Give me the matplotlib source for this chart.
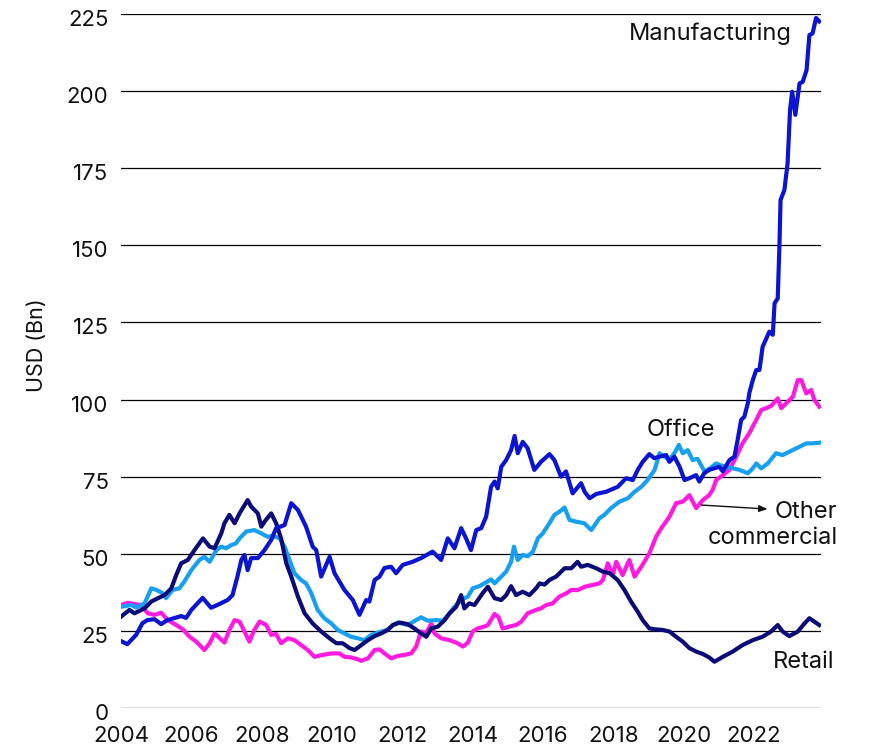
import matplotlib
matplotlib.use("Agg")
import matplotlib.pyplot as plt
import matplotlib.transforms as mtransforms

plt.rcParams['font.family'] = ['Inter', 'DejaVu Sans']

# ---------------- data (USD Bn) ----------------
manuf_x = [2004.00, 2004.18, 2004.43, 2004.61, 2004.75, 2004.95, 2005.14, 2005.32, 2005.71, 2005.85,
           2006.00, 2006.32, 2006.56, 2006.74, 2007.03, 2007.17, 2007.31, 2007.42, 2007.51, 2007.60,
           2007.70, 2007.89, 2008.08, 2008.27, 2008.41, 2008.65, 2008.84, 2009.03, 2009.26, 2009.45,
           2009.55, 2009.69, 2009.93, 2010.07, 2010.35, 2010.59, 2010.78, 2010.97, 2011.06, 2011.21,
           2011.35, 2011.49, 2011.68, 2011.82, 2012.01, 2012.29, 2012.53, 2012.86, 2013.10, 2013.29,
           2013.48, 2013.67, 2013.81, 2013.95, 2014.10, 2014.24, 2014.38, 2014.52, 2014.62, 2014.71,
           2014.81, 2014.95, 2015.09, 2015.19, 2015.28, 2015.42, 2015.56, 2015.75, 2015.94, 2016.18,
           2016.32, 2016.51, 2016.65, 2016.84, 2017.08, 2017.18, 2017.32, 2017.51, 2017.79, 2018.12,
           2018.36, 2018.55, 2018.69, 2018.83, 2019.02, 2019.16, 2019.31, 2019.50, 2019.59, 2019.73,
           2019.88, 2020.02, 2020.16, 2020.35, 2020.44, 2020.58, 2020.72, 2021.01, 2021.11, 2021.30,
           2021.44, 2021.53, 2021.63, 2021.72, 2021.82, 2021.86, 2021.96, 2022.06, 2022.15, 2022.24,
           2022.43, 2022.53, 2022.58, 2022.67, 2022.72, 2022.75, 2022.86, 2022.95, 2023.02, 2023.08,
           2023.17, 2023.29, 2023.38, 2023.49, 2023.57, 2023.66, 2023.76, 2023.85]
manuf_y = [21.7, 20.7, 23.7, 27.5, 28.5, 28.8, 27.2, 28.5, 29.8, 29.2,
           31.8, 35.7, 32.5, 33.4, 35.0, 36.6, 42.6, 48.0, 49.6, 44.7,
           48.6, 48.6, 51.2, 54.5, 58.3, 59.3, 66.4, 64.2, 58.8, 52.3,
           51.2, 42.6, 49.0, 43.7, 38.3, 35.0, 30.2, 35.0, 34.5, 41.5,
           42.6, 45.4, 45.8, 43.7, 46.4, 47.4, 48.6, 50.7, 48.0, 55.0,
           51.8, 58.3, 55.0, 51.2, 57.7, 58.3, 62.0, 71.7, 73.4, 71.2,
           78.2, 80.4, 83.6, 88.2, 82.6, 86.3, 84.2, 77.2, 79.8, 82.3,
           80.4, 75.0, 76.7, 69.6, 72.9, 70.1, 68.0, 69.4, 70.1, 71.7,
           74.5, 73.9, 77.2, 79.8, 82.3, 81.0, 81.5, 82.0, 79.8, 81.5,
           78.2, 73.9, 74.5, 75.5, 73.4, 76.1, 77.2, 78.2, 76.7, 80.4,
           81.5, 86.9, 93.4, 94.4, 98.8, 102.0, 106.3, 109.6, 109.6, 117.1,
           122.0, 121.0, 131.2, 132.8, 150.6, 164.7, 168.0, 176.6, 193.9, 199.8,
           192.3, 202.5, 203.0, 206.8, 218.2, 218.7, 223.7, 222.6]

office_x = [2004.00, 2004.29, 2004.43, 2004.67, 2004.86, 2005.00, 2005.19, 2005.28, 2005.47, 2005.66,
            2005.80, 2006.00, 2006.23, 2006.37, 2006.52, 2006.71, 2006.85, 2006.99, 2007.13, 2007.27,
            2007.37, 2007.56, 2007.79, 2007.99, 2008.17, 2008.31, 2008.51, 2008.65, 2008.79, 2008.93,
            2009.12, 2009.26, 2009.41, 2009.59, 2009.78, 2009.98, 2010.16, 2010.35, 2010.54, 2010.73,
            2010.92, 2011.11, 2011.40, 2011.58, 2011.73, 2011.87, 2012.15, 2012.39, 2012.53, 2012.72,
            2012.96, 2013.15, 2013.34, 2013.48, 2013.67, 2013.86, 2014.00, 2014.19, 2014.33, 2014.52,
            2014.62, 2014.81, 2014.95, 2015.09, 2015.17, 2015.28, 2015.42, 2015.56, 2015.71, 2015.85,
            2015.99, 2016.18, 2016.32, 2016.46, 2016.61, 2016.75, 2016.94, 2017.17, 2017.37, 2017.60,
            2017.74, 2017.93, 2018.17, 2018.41, 2018.60, 2018.79, 2018.97, 2019.17, 2019.31, 2019.45,
            2019.59, 2019.73, 2019.86, 2019.97, 2020.11, 2020.25, 2020.39, 2020.59, 2020.72, 2020.92,
            2021.01, 2021.20, 2021.39, 2021.58, 2021.82, 2021.96, 2022.06, 2022.20, 2022.39, 2022.62,
            2022.81, 2023.00, 2023.29, 2023.48, 2023.66, 2023.85]
office_y = [32.8, 33.4, 32.6, 33.9, 38.8, 38.3, 37.2, 35.6, 38.3, 38.8,
            41.0, 44.7, 48.0, 49.0, 47.4, 51.2, 52.3, 51.8, 52.8, 53.4,
            55.0, 57.2, 57.7, 56.6, 55.5, 55.8, 55.0, 52.3, 48.0, 43.7,
            41.5, 40.4, 37.2, 31.8, 29.1, 27.4, 25.3, 24.2, 23.1, 22.6,
            22.0, 23.7, 24.8, 25.3, 26.9, 27.7, 26.9, 28.5, 29.4, 28.3,
            28.5, 28.3, 30.7, 32.8, 35.0, 36.1, 38.8, 39.5, 40.4, 41.7,
            40.4, 42.6, 44.2, 47.4, 52.3, 48.0, 49.6, 49.2, 50.7, 55.0,
            56.6, 59.9, 62.6, 63.6, 65.0, 61.0, 60.4, 59.9, 57.7, 61.5,
            62.6, 64.8, 66.9, 68.0, 70.1, 71.7, 73.9, 77.2, 82.6, 81.5,
            80.5, 82.6, 85.3, 82.6, 83.6, 80.4, 80.8, 76.7, 77.5, 79.3,
            78.8, 78.2, 77.7, 77.2, 76.1, 77.7, 79.3, 77.7, 79.3, 82.6,
            82.0, 83.1, 84.7, 85.8, 85.8, 86.0]

other_x = [2004.00, 2004.19, 2004.38, 2004.57, 2004.76, 2004.95, 2005.14, 2005.33, 2005.57, 2005.76,
           2005.95, 2006.14, 2006.37, 2006.52, 2006.66, 2006.94, 2007.08, 2007.23, 2007.37, 2007.51,
           2007.65, 2007.79, 2007.94, 2008.13, 2008.27, 2008.41, 2008.55, 2008.74, 2008.93, 2009.12,
           2009.31, 2009.50, 2009.73, 2009.98, 2010.21, 2010.35, 2010.54, 2010.73, 2010.83, 2011.02,
           2011.21, 2011.35, 2011.49, 2011.68, 2011.87, 2012.06, 2012.25, 2012.39, 2012.53, 2012.68,
           2012.82, 2012.91, 2013.10, 2013.34, 2013.57, 2013.72, 2013.86, 2014.00, 2014.14, 2014.33,
           2014.43, 2014.62, 2014.73, 2014.85, 2015.04, 2015.23, 2015.38, 2015.56, 2015.80, 2015.94,
           2016.09, 2016.27, 2016.46, 2016.66, 2016.80, 2016.98, 2017.18, 2017.41, 2017.60, 2017.70,
           2017.84, 2017.98, 2018.08, 2018.26, 2018.45, 2018.60, 2018.79, 2019.02, 2019.21, 2019.36,
           2019.59, 2019.78, 2019.97, 2020.16, 2020.35, 2020.54, 2020.72, 2020.82, 2020.92, 2021.11,
           2021.30, 2021.49, 2021.67, 2021.86, 2022.06, 2022.20, 2022.34, 2022.49, 2022.67, 2022.77,
           2022.91, 2023.10, 2023.24, 2023.34, 2023.48, 2023.62, 2023.71, 2023.85]
other_y = [33.4, 34.1, 33.7, 33.4, 30.7, 30.2, 30.9, 28.5, 26.9, 25.5,
           23.1, 21.5, 18.8, 21.0, 24.2, 21.2, 25.3, 28.5, 28.0, 24.8,
           21.5, 25.3, 28.0, 26.9, 23.7, 24.0, 21.0, 22.6, 22.0, 20.4,
           18.8, 16.6, 17.2, 17.7, 17.7, 16.6, 16.4, 15.8, 15.3, 16.1,
           18.8, 19.0, 17.7, 16.1, 16.9, 17.2, 17.7, 19.9, 24.8, 24.4,
           27.4, 24.2, 22.6, 22.0, 21.0, 19.9, 21.2, 24.8, 25.8, 26.4,
           26.9, 30.5, 29.5, 25.8, 26.4, 26.9, 28.0, 30.7, 31.8, 32.3,
           33.4, 33.9, 36.1, 37.2, 38.3, 38.2, 39.3, 39.9, 40.4, 41.5,
           46.9, 43.1, 47.4, 43.1, 48.0, 42.6, 45.8, 50.1, 55.5, 58.3,
           62.0, 66.4, 66.9, 69.0, 64.8, 67.4, 69.0, 70.7, 73.9, 75.5,
           77.2, 81.5, 85.8, 89.1, 93.4, 96.6, 97.2, 98.0, 100.4, 97.2,
           98.8, 100.9, 106.3, 106.3, 102.0, 103.1, 99.9, 97.7]

retail_x = [2004.00, 2004.24, 2004.38, 2004.67, 2004.86, 2005.05, 2005.24, 2005.43, 2005.57, 2005.71,
            2005.90, 2006.09, 2006.33, 2006.52, 2006.66, 2006.85, 2006.94, 2007.08, 2007.23, 2007.37,
            2007.60, 2007.70, 2007.89, 2007.99, 2008.08, 2008.27, 2008.41, 2008.55, 2008.70, 2008.84,
            2009.03, 2009.22, 2009.45, 2009.69, 2009.93, 2010.12, 2010.30, 2010.50, 2010.64, 2010.83,
            2011.02, 2011.21, 2011.40, 2011.58, 2011.73, 2011.92, 2012.15, 2012.34, 2012.53, 2012.68,
            2012.82, 2013.01, 2013.20, 2013.34, 2013.53, 2013.67, 2013.76, 2013.90, 2014.05, 2014.28,
            2014.43, 2014.62, 2014.81, 2014.95, 2015.09, 2015.23, 2015.42, 2015.61, 2015.80, 2015.90,
            2016.04, 2016.18, 2016.37, 2016.61, 2016.80, 2016.98, 2017.08, 2017.27, 2017.51, 2017.70,
            2017.89, 2018.12, 2018.31, 2018.50, 2018.69, 2018.83, 2019.02, 2019.19, 2019.40, 2019.59,
            2019.78, 2019.97, 2020.16, 2020.35, 2020.54, 2020.72, 2020.87, 2021.11, 2021.39, 2021.67,
            2021.96, 2022.24, 2022.48, 2022.67, 2022.81, 2023.00, 2023.24, 2023.43, 2023.57, 2023.71,
            2023.85]
retail_y = [29.6, 31.8, 30.7, 32.3, 34.5, 35.6, 36.6, 38.8, 43.1, 46.9,
            48.0, 51.2, 55.0, 52.3, 51.8, 56.6, 59.9, 62.6, 59.9, 63.1,
            67.4, 65.3, 63.1, 58.8, 60.4, 63.1, 59.9, 55.0, 46.9, 42.6,
            36.1, 30.7, 27.4, 24.8, 22.6, 21.0, 21.0, 19.4, 18.8, 20.4,
            22.0, 23.3, 24.2, 25.3, 26.9, 27.7, 27.2, 25.8, 24.2, 23.1,
            25.8, 26.4, 28.5, 30.7, 32.8, 36.6, 32.3, 33.9, 33.4, 37.2,
            39.3, 35.6, 35.0, 36.6, 39.5, 36.6, 37.7, 36.6, 38.8, 40.4,
            40.0, 41.5, 42.6, 45.3, 45.3, 47.4, 45.8, 46.4, 45.3, 44.2,
            43.7, 41.5, 38.3, 34.5, 31.2, 28.5, 25.8, 25.5, 25.3, 24.8,
            23.1, 21.5, 19.4, 18.3, 17.5, 16.4, 15.0, 16.6, 18.3, 20.4,
            22.0, 23.1, 24.8, 26.9, 24.8, 23.3, 24.8, 27.4, 29.1, 28.0,
            26.9]

y_ticks = [0, 25, 50, 75, 100, 125, 150, 175, 200, 225]
x_ticks = [2004, 2006, 2008, 2010, 2012, 2014, 2016, 2018, 2020, 2022]

# ---------------- figure ----------------
W, H = 869, 748
fig = plt.figure(figsize=(W / 100, H / 100), dpi=100)
ax = fig.add_axes([121 / W, 1 - 708 / H, 700 / W, 694 / H])

col_manuf = "#0A14D2"
col_office = "#17A0F2"
col_other = "#FF1AE0"
col_retail = "#0C0C78"

lw = 3.0
ax.plot(other_x, other_y, color=col_other, lw=lw, zorder=3, solid_joinstyle='round')
ax.plot(office_x, office_y, color=col_office, lw=lw, zorder=4, solid_joinstyle='round')
ax.plot(retail_x, retail_y, color=col_retail, lw=lw, zorder=5, solid_joinstyle='round')
ax.plot(manuf_x, manuf_y, color=col_manuf, lw=lw, zorder=6, solid_joinstyle='round')

ax.set_xlim(2004, 2023.9)
ax.set_ylim(0, 225)
ax.set_yticks(y_ticks)
ax.set_xticks(x_ticks)
ax.set_xticklabels([str(v) for v in x_ticks])
ax.grid(axis='y', color='black', lw=0.9, zorder=1)
ax.set_axisbelow(True)
for s in ax.spines.values():
    s.set_visible(False)
ax.tick_params(axis='both', length=0, labelsize=16, colors='#111111')
ax.tick_params(axis='y', pad=9)
ax.tick_params(axis='x', pad=13)
# y labels sit slightly below their grid line
off = mtransforms.ScaledTranslation(0, -4 / 100, fig.dpi_scale_trans)
for lab in ax.get_yticklabels():
    lab.set_transform(lab.get_transform() + off)

fig.text(37 / W, 1 - 345 / H, "USD (Bn)", rotation=90, ha='center', va='center',
         fontsize=15.5, color='#111111')

tkw = dict(fontsize=17, color='#111111')
ax.text(2023.06, 218.5, "Manufacturing", ha='right', va='center', **tkw)
ax.text(2019.93, 90.1, "Office", ha='center', va='center', **tkw)
ax.text(2024.37, 59.3, "Other\ncommercial", ha='right', va='center', multialignment='right',
        linespacing=1.2, clip_on=False, **tkw)
ax.text(2024.28, 14.9, "Retail", ha='right', va='center', clip_on=False, **tkw)
ax.annotate("", xy=(2022.38, 64.5), xytext=(2020.50, 65.8),
            arrowprops=dict(arrowstyle='-|>,head_length=0.5,head_width=0.2', lw=1.0, color='#111111',
                            shrinkA=0, shrinkB=0), annotation_clip=False)

fig.savefig("out.png", dpi=100)
